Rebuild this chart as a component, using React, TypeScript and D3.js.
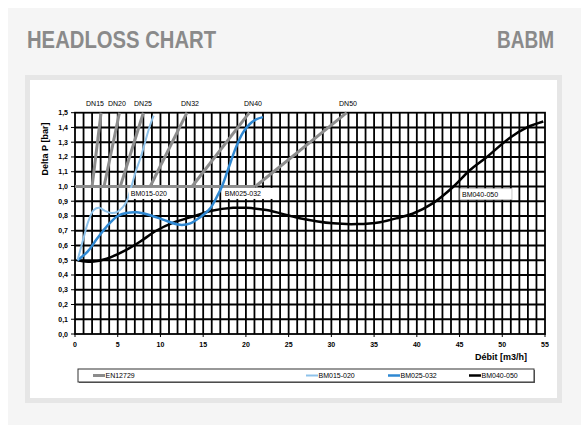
import React from "react";
import * as d3 from "d3";

const xTicks = [0, 5, 10, 15, 20, 25, 30, 35, 40, 45, 50, 55];
const yTicks = [0, 0.1, 0.2, 0.3, 0.4, 0.5, 0.6, 0.7, 0.8, 0.9, 1.0, 1.1, 1.2, 1.3, 1.4, 1.5];

// EN12729 lines: [x at 1.0 bar, x at 1.5 bar]
const dnNames = ["DN15", "DN20", "DN25", "DN32", "DN40", "DN50"];
const dnStart = [2.0, 3.4, 5.3, 8.8, 13.7, 21.1];
const dnEnd = [3.05, 5.2, 8.0, 13.1, 20.4, 31.8];
const dnLabelX = [2.34, 4.9, 7.96, 13.46, 20.83, 31.95];

const bm015: [number, number][] = [
  [0.3, 0.5], [1.0, 0.65], [1.6, 0.77], [2.2, 0.84], [2.8, 0.855], [3.5, 0.835],
  [4.3, 0.82], [5.0, 0.83], [5.6, 0.86], [6.05, 0.9], [6.6, 1.0], [7.1, 1.1],
  [7.7, 1.2], [8.2, 1.3], [8.7, 1.4], [9.2, 1.48],
];
const bm025: [number, number][] = [
  [0.3, 0.5], [1.5, 0.56], [2.5, 0.64], [3.3, 0.7], [4.2, 0.76], [5.0, 0.8],
  [6.0, 0.82], [7.2, 0.825], [8.5, 0.81], [10.3, 0.775], [12.3, 0.74], [13.5, 0.75],
  [14.6, 0.79], [15.8, 0.85], [16.6, 0.93], [17.2, 1.0], [18.0, 1.13], [18.8, 1.26],
  [19.6, 1.36], [20.4, 1.42], [21.2, 1.455], [22.0, 1.47],
];
const bm040: [number, number][] = [
  [0.3, 0.5], [2.0, 0.49], [3.7, 0.51], [6.0, 0.57], [7.6, 0.625], [9.5, 0.7],
  [11.5, 0.755], [14.0, 0.8], [16.0, 0.835], [18.5, 0.855], [20.0, 0.855],
  [22.4, 0.84], [26.3, 0.785], [30.2, 0.75], [33.0, 0.745], [35.7, 0.758],
  [38.0, 0.79], [39.5, 0.815], [41.9, 0.887], [44.3, 1.0], [46.2, 1.11],
  [48.2, 1.2], [50.9, 1.33], [52.9, 1.4], [54.8, 1.44],
];

const boxLabels = ["BM015-020", "BM025-032", "BM040-050"];
const boxX = [6.3, 17.3, 45.05];
const boxY = [0.99, 0.99, 0.985];
const boxW = [43, 55, 52];

const legendNames = ["EN12729", "BM015-020", "BM025-032", "BM040-050"];
const legendColors = ["#8c8c8c", "#8ec2ea", "#2f88d2", "#000000"];
const legendWidths = [3, 2, 2.5, 2.5];
const legendX = [93, 306, 388, 469];

const FONT = "'Liberation Sans', Arial, sans-serif";

export default function App() {
  const x = d3.scaleLinear().domain([0, 55]).range([75, 545]);
  const y = d3.scaleLinear().domain([0, 1.5]).range([334, 112.7]);
  const line = d3
    .line<[number, number]>()
    .x((d) => x(d[0]))
    .y((d) => y(d[1]))
    .curve(d3.curveCatmullRom.alpha(0.5));
  const straight = d3
    .line<[number, number]>()
    .x((d) => x(d[0]))
    .y((d) => y(d[1]));

  const xGrid = d3.range(1, 55);
  const yGrid = d3.range(1, 15).map((i) => i / 10);

  return (
    <svg
      width={581}
      height={425}
      style={{ position: "absolute", left: 0, top: 0 }}
      fontFamily={FONT}
    >
      <rect x={0} y={0} width={581} height={425} fill="#ffffff" />
      <rect x={8} y={8} width={573} height={417} fill="#f5f5f5" />
      <text x={27} y={48} fontSize={23} fontWeight="bold" fill="#8a8a8a" textLength={189} lengthAdjust="spacingAndGlyphs">
        HEADLOSS CHART
      </text>
      <text x={497} y={48} fontSize={23} fontWeight="bold" fill="#8a8a8a" textLength={57} lengthAdjust="spacingAndGlyphs">
        BABM
      </text>
      <rect x={25} y={75} width={537} height={328} fill="#e6e6e6" />
      <rect x={30} y={80} width={527} height={318} fill="#ffffff" />

      {/* grid */}
      <g stroke="#000">
        {xGrid.map((v) => (
          <line key={"vx" + v} x1={x(v)} x2={x(v)} y1={y(0)} y2={y(1.5)} strokeWidth={1.8} />
        ))}
        {yGrid.map((v) => (
          <line key={"hy" + v} x1={x(0)} x2={x(55)} y1={y(v)} y2={y(v)} strokeWidth={2} />
        ))}
        <rect x={x(0)} y={y(1.5)} width={x(55) - x(0)} height={y(0) - y(1.5)} fill="none" strokeWidth={1.8} />
        {yTicks.map((v) => (
          <line key={"ty" + v} x1={x(0) - 4} x2={x(0)} y1={y(v)} y2={y(v)} strokeWidth={1} />
        ))}
        {xTicks.map((v) => (
          <line key={"tx" + v} x1={x(v)} x2={x(v)} y1={y(0)} y2={y(0) + 3} strokeWidth={1} />
        ))}
      </g>

      {/* tick labels */}
      <g fontSize={7} fontWeight="bold" fill="#000">
        {yTicks.map((v) => (
          <text key={"ly" + v} x={x(0) - 7} y={y(v) + 2.5} textAnchor="end">
            {v.toFixed(1).replace(".", ",")}
          </text>
        ))}
        {xTicks.map((v) => (
          <text key={"lx" + v} x={x(v)} y={347} textAnchor="middle">
            {v}
          </text>
        ))}
      </g>
      <text
        transform={`translate(48,149) rotate(-90)`}
        fontSize={9}
        fontWeight="bold"
        textAnchor="middle"
      >
        Delta P [bar]
      </text>
      <text x={527} y={360} fontSize={9} fontWeight="bold" textAnchor="end">
        Débit [m3/h]
      </text>

      {/* EN12729 */}
      <g stroke="#8c8c8c" strokeWidth={3} fill="none">
        <path d={straight([[0, 1.0], [dnStart[dnStart.length - 1], 1.0]]) || ""} />
        {dnNames.map((n, i) => (
          <path key={n} d={straight([[dnStart[i], 1.0], [dnEnd[i], 1.5]]) || ""} />
        ))}
      </g>
      <g fontSize={7} fill="#000">
        {dnNames.map((n, i) => (
          <text key={"dl" + n} x={x(dnLabelX[i])} y={106} textAnchor="middle">
            {n}
          </text>
        ))}
      </g>

      {/* BM curves */}
      <path d={line(bm040) || ""} fill="none" stroke="#000" strokeWidth={2.5} />
      <path d={line(bm025) || ""} fill="none" stroke="#2f88d2" strokeWidth={2.5} />
      <path d={line(bm015) || ""} fill="none" stroke="#8ec2ea" strokeWidth={2} />

      {/* label boxes */}
      {boxLabels.map((b, i) => (
        <g key={b}>
          <rect x={x(boxX[i])} y={y(boxY[i])} width={boxW[i]} height={11} fill="#fff" stroke={i === 2 ? "#bbb" : "none"} strokeWidth={0.8} />
          <text x={x(boxX[i]) + 2} y={y(boxY[i]) + 8} fontSize={7} fill="#000">
            {b}
          </text>
        </g>
      ))}

      {/* legend */}
      <rect x={79} y={370} width={456} height={13} fill="#666" />
      <rect x={78} y={369} width={456} height={13} fill="#fff" stroke="#333" strokeWidth={1} />
      {legendNames.map((n, i) => (
        <g key={"lg" + n}>
          <line x1={legendX[i]} x2={legendX[i] + 12} y1={375.5} y2={375.5} stroke={legendColors[i]} strokeWidth={legendWidths[i]} />
          <text x={legendX[i] + 12.5} y={378} fontSize={7} fill="#000">
            {n}
          </text>
        </g>
      ))}
    </svg>
  );
}
